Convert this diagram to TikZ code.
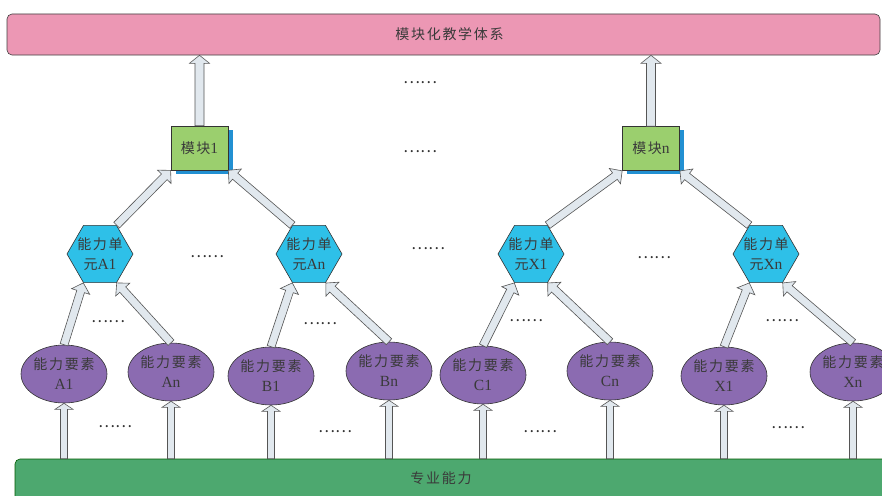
\documentclass[tikz,border=0pt]{standalone}
\usepackage{fontspec}
\setmainfont{Liberation Serif}
\newfontfamily\cjk{Noto Sans CJK SC}[LetterSpace=12]
\newfontfamily\cjkdots{Noto Sans CJK SC}
\newcommand\zh[1]{{\cjk\fontsize{14}{20}\selectfont #1}}
\usetikzlibrary{shapes.geometric,shadows,calc}
\definecolor{pinkbar}{HTML}{EC97B4}
\definecolor{greenbar}{HTML}{4DA86F}
\definecolor{modgreen}{HTML}{9BCF6E}
\definecolor{shadowblue}{HTML}{2290D2}
\definecolor{hexblue}{HTML}{2EC0E8}
\definecolor{purp}{HTML}{8B6BB1}
\definecolor{arrfill}{HTML}{E1E8EE}
\definecolor{arrline}{HTML}{555555}
\definecolor{textc}{HTML}{3A3A3A}
\newcommand\arsw{4}
\newcommand\arhw{9}
\newcommand\arhl{9}
\newcommand\barrow[2]{%
  \path[blockarrow] let \p1=#1, \p2=#2,
    \n1={atan2(\y2-\y1,\x2-\x1)}, \n2={veclen(\x2-\x1,\y2-\y1)} in
    [shift={(\p1)}, rotate=\n1]
    (0pt,{-\arsw*1pt}) -- ({\n2*1pt-\arhl*1pt},{-\arsw*1pt})
    -- ({\n2*1pt-\arhl*1pt},{-\arhw*1pt}) -- ({\n2*1pt},0pt)
    -- ({\n2*1pt-\arhl*1pt},{\arhw*1pt}) -- ({\n2*1pt-\arhl*1pt},{\arsw*1pt})
    -- (0pt,{\arsw*1pt}) -- cycle;
}
\tikzset{
  blockarrow/.style={draw=arrline, fill=arrfill, line width=0.6pt, line join=miter},
  bar/.style={draw=black!75, line width=0.6pt, rounded corners=5pt, inner sep=0pt},
  modbox/.style={draw=black!80, fill=modgreen, line width=0.6pt, minimum width=57pt, minimum height=44pt,
    inner sep=0pt, text=textc, font=\fontsize{15.5}{20}\selectfont,
    general shadow={fill=shadowblue, shadow xshift=4.5pt, shadow yshift=-3.5pt}},
  hexnode/.style={regular polygon, regular polygon sides=6, minimum size=66pt, inner sep=0pt,
    draw=black!80, fill=hexblue, line width=0.6pt},
  ellnode/.style={ellipse, minimum width=86pt, minimum height=58pt, inner sep=0pt,
    draw=black!80, fill=purp, line width=0.6pt},
  lbl/.style={text=textc, align=center, font=\fontsize{15.5}{20}\selectfont},
  dots/.style={text=black!80, font=\cjkdots\fontsize{16}{16}\selectfont, inner sep=0pt}
}
\begin{document}
\begin{tikzpicture}[x=1pt,y=-1pt]
\useasboundingbox (0,0) rectangle (882,495);
% bars
\node[bar, fill=pinkbar, minimum width=873pt, minimum height=41pt,
  label={[lbl, xshift=6pt]center:{\zh{模块化教学体系}}}] (top) at (443.5,34.5) {};
\node[bar, draw=green!35!black, fill=greenbar, minimum width=880pt, minimum height=50pt,
  label={[lbl, yshift=6pt, xshift=-14pt]center:{\zh{专业能力}}}] (bot) at (455,484) {};
% modules
\node[modbox] (m1) at (199.5,148) {\zh{模块}1};
\node[modbox] (mn) at (651,148.5) {\zh{模块}n};
% hexagons
\node[hexnode, label={[lbl]center:\zh{能力单}\\\zh{元}A1}] (hA1) at (100,254) {};
\node[hexnode, label={[lbl]center:\zh{能力单}\\\zh{元}An}] (hAn) at (309,254) {};
\node[hexnode, label={[lbl]center:\zh{能力单}\\\zh{元}X1}] (hX1) at (531,254) {};
\node[hexnode, label={[lbl]center:\zh{能力单}\\\zh{元}Xn}] (hXn) at (766,254) {};
% ellipses
\node[ellnode, label={[lbl]center:\zh{能力要素}\\A1}] (eA1) at (64,374) {};
\node[ellnode, label={[lbl]center:\zh{能力要素}\\An}] (eAn) at (171,372) {};
\node[ellnode, label={[lbl]center:\zh{能力要素}\\B1}] (eB1) at (271,376) {};
\node[ellnode, label={[lbl]center:\zh{能力要素}\\Bn}] (eBn) at (389,371) {};
\node[ellnode, label={[lbl]center:\zh{能力要素}\\C1}] (eC1) at (483,375) {};
\node[ellnode, label={[lbl]center:\zh{能力要素}\\Cn}] (eCn) at (610,371) {};
\node[ellnode, label={[lbl]center:\zh{能力要素}\\X1}] (eX1) at (724,376) {};
\node[ellnode, label={[lbl]center:\zh{能力要素}\\Xn}] (eXn) at (853,372) {};
% dots
\node[dots] (d1) at (420,83) {……};
\node[dots] (d2) at (420,152) {……};
\node[dots] (d3) at (428,249) {……};
\node[dots] (d4) at (207,257) {……};
\node[dots] (d5) at (654,258) {……};
\node[dots] (d6) at (108,322) {……};
\node[dots] (d7) at (320,324) {……};
\node[dots] (d8) at (526,321) {……};
\node[dots] (d9) at (782,321) {……};
\node[dots] (d10) at (115,427) {……};
\node[dots] (d11) at (335,432) {……};
\node[dots] (d12) at (540,432) {……};
\node[dots] (d13) at (788,428) {……};
% arrows: bar -> ellipses
\renewcommand\arsw{3.5}\renewcommand\arhw{9}\renewcommand\arhl{6}
\foreach \e in {eA1,eAn,eB1,eBn,eC1,eCn,eX1,eXn}{
  \barrow{(\e.south |- bot.north)}{(\e.south)}
}
% ellipses -> hexagons
\renewcommand\arsw{4}\renewcommand\arhw{9.5}\renewcommand\arhl{9}
\barrow{(eA1.north)}{(hA1.-120)}
\barrow{(eAn.north)}{(hA1.-60)}
\barrow{(eB1.north)}{(hAn.-120)}
\barrow{(eBn.north)}{(hAn.-60)}
\barrow{(eC1.north)}{(hX1.-120)}
\barrow{(eCn.north)}{(hX1.-60)}
\barrow{(eX1.north)}{(hXn.-120)}
\barrow{(eXn.north)}{(hXn.-60)}
% hexagons -> modules
\barrow{(hA1.60)}{(m1.south west)}
\barrow{(hAn.120)}{(m1.south east)}
\barrow{(hX1.60)}{(mn.south west)}
\barrow{(hXn.120)}{(mn.south east)}
% modules -> top
\renewcommand\arsw{4.5}\renewcommand\arhw{10}\renewcommand\arhl{8}
\barrow{(m1.north)}{(m1.north |- top.south)}
\barrow{(mn.north)}{(mn.north |- top.south)}
\end{tikzpicture}
\end{document}
